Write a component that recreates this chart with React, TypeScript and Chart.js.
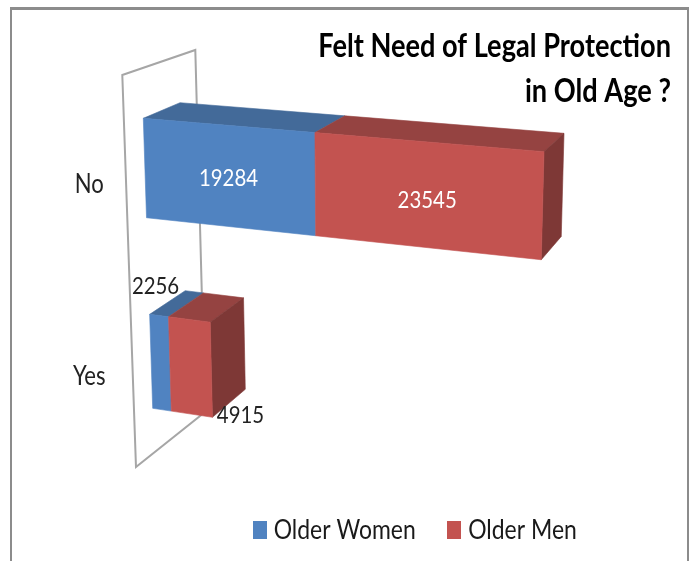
import React, { useEffect, useRef } from "react";
import { Chart, registerables } from "chart.js";

Chart.register(...registerables);

const categories = ["No", "Yes"];
const olderWomen = [19284, 2256];
const olderMen = [23545, 4915];
const seriesNames = ["Older Women", "Older Men"];
const titleLines = ["Felt Need of Legal Protection", "in Old Age ?"];

const FONT = 'Lato, sans-serif';
const FRONT = ["#5083C1", "#C35350"];
const TOP = ["#436A99", "#954341"];
const SIDE = ["#3A5C85", "#7E3836"];
const LABEL_COLORS = [["#FFFFFF", "#FFFFFF"], ["#222222", "#222222"]];
const LABEL_SHIFT = [[[0, 2], [1, 5]], [[-5, -77], [50, 48]]];
const NARROW = 0.85;

type P = [number, number];
const FRONT_QUAD: P[] = [[143.3, 118.3], [544, 151.7], [536, 466], [152.7, 408.3]];
const BACK_QUAD: P[] = [[180, 102.7], [564, 133.3], [556, 434], [187.7, 381]];
const WALL: P[] = [[122.3, 75], [195.3, 50], [205, 412], [136, 467]];

function homography(q: P[]) {
  const [[x0, y0], [x1, y1], [x2, y2], [x3, y3]] = q;
  const dx1 = x1 - x2, dx2 = x3 - x2, sx = x0 - x1 + x2 - x3;
  const dy1 = y1 - y2, dy2 = y3 - y2, sy = y0 - y1 + y2 - y3;
  const den = dx1 * dy2 - dx2 * dy1;
  const g = (sx * dy2 - dx2 * sy) / den;
  const h = (dx1 * sy - sx * dy1) / den;
  const a = x1 - x0 + g * x1, b = x3 - x0 + h * x3;
  const d = y1 - y0 + g * y1, e = y3 - y0 + h * y3;
  return (u: number, v: number): P => {
    const w = g * u + h * v + 1;
    return [(a * u + b * v + x0) / w, (d * u + e * v + y0) / w];
  };
}
const front = homography(FRONT_QUAD);
const back = homography(BACK_QUAD);

function poly(ctx: CanvasRenderingContext2D, pts: P[], color: string) {
  ctx.beginPath();
  pts.forEach((p, i) => (i ? ctx.lineTo(p[0], p[1]) : ctx.moveTo(p[0], p[1])));
  ctx.closePath();
  ctx.fillStyle = color;
  ctx.strokeStyle = color;
  ctx.lineWidth = 0.6;
  ctx.fill();
  ctx.stroke();
}

// The reference's text is tall and narrow: condense everything the chart writes.
function condense(ctx: any) {
  const measure = ctx.measureText.bind(ctx);
  const fill = ctx.fillText.bind(ctx);
  ctx.measureText = (t: string) => {
    const m = measure(t);
    return { width: m.width * NARROW, actualBoundingBoxAscent: m.actualBoundingBoxAscent, actualBoundingBoxDescent: m.actualBoundingBoxDescent };
  };
  ctx.fillText = (t: string, x: number, y: number) => {
    ctx.save();
    ctx.translate(x, y);
    ctx.scale(NARROW, 1);
    fill(t, 0, 0);
    ctx.restore();
  };
}

const box3d = {
  id: "box3d",
  afterLayout(chart: any) {
    const l = chart.legend;
    const dx = 418 - (l.left + l.right) / 2, dy = 6;
    l.left += dx; l.right += dx; l.top += dy; l.bottom += dy;
  },
  beforeDraw(chart: any) {
    const ctx = chart.ctx;
    ctx.save();
    ctx.fillStyle = "#FFFFFF";
    ctx.fillRect(0, 0, chart.width, chart.height);
    ctx.fillStyle = "#8C8C8C";
    ctx.fillRect(10, 7, 679, 3);
    ctx.fillRect(10, 7, 2, chart.height - 7);
    ctx.fillRect(687, 7, 2, chart.height - 7);
    ctx.restore();
  },
  beforeDatasetsDraw(chart: any) {
    const ctx = chart.ctx;
    const { left, right, top, bottom } = chart.chartArea;
    const U = (px: number) => (px - left) / (right - left);
    const V = (py: number) => ((py - top) / (bottom - top) - 0.125) / 0.75;
    ctx.save();
    ctx.beginPath();
    WALL.forEach((p, i) => (i ? ctx.lineTo(p[0], p[1]) : ctx.moveTo(p[0], p[1])));
    ctx.closePath();
    ctx.strokeStyle = "#A6A6A6";
    ctx.lineWidth = 2;
    ctx.stroke();

    const metas = chart.data.datasets.map((_: any, i: number) => chart.getDatasetMeta(i));
    categories.forEach((_, c) => {
      const faces = metas.map((m: any) => {
        const el = m.data[c];
        const u0 = U(el.base), u1 = U(el.x);
        const v0 = V(el.y - el.height / 2), v1 = V(el.y + el.height / 2);
        return { u0, u1, v0, v1 };
      });
      faces.forEach((f: any, s: number) => {
        poly(ctx, [front(f.u0, f.v0), front(f.u1, f.v0), back(f.u1, f.v0), back(f.u0, f.v0)], TOP[s]);
      });
      const last = faces[faces.length - 1];
      poly(ctx, [front(last.u1, last.v0), back(last.u1, last.v0), back(last.u1, last.v1), front(last.u1, last.v1)], SIDE[faces.length - 1]);
      faces.forEach((f: any, s: number) => {
        poly(ctx, [front(f.u0, f.v0), front(f.u1, f.v0), front(f.u1, f.v1), front(f.u0, f.v1)], FRONT[s]);
      });
    });
    ctx.font = `24px ${FONT}`;
    ctx.textAlign = "center";
    ctx.textBaseline = "middle";
    categories.forEach((_, c) => {
      metas.forEach((m: any, s: number) => {
        const el = m.data[c];
        const p = front(U((el.base + el.x) / 2), V(el.y));
        ctx.fillStyle = LABEL_COLORS[c][s];
        ctx.fillText(String(chart.data.datasets[s].data[c]), p[0] + LABEL_SHIFT[c][s][0], p[1] + LABEL_SHIFT[c][s][1]);
      });
    });
    ctx.restore();
    return false;
  },
};

function swatch(color: string) {
  const c = document.createElement("canvas");
  c.width = 14;
  c.height = 18;
  const x = c.getContext("2d")!;
  x.fillStyle = color;
  x.fillRect(0, 0, 14, 18);
  return c;
}

export default function App() {
  const ref = useRef<HTMLCanvasElement>(null);
  useEffect(() => {
    const swatches = FRONT.map(swatch);
    const total = olderWomen[0] + olderMen[0];
    condense(ref.current!.getContext("2d"));
    const chart = new Chart(ref.current!, {
      type: "bar",
      data: {
        labels: categories,
        datasets: [
          { label: seriesNames[0], data: olderWomen, backgroundColor: FRONT[0], barPercentage: 0.5, categoryPercentage: 1 },
          { label: seriesNames[1], data: olderMen, backgroundColor: FRONT[1], barPercentage: 0.5, categoryPercentage: 1 },
        ],
      },
      plugins: [box3d],
      options: {
        indexAxis: "y",
        responsive: false,
        animation: false,
        layout: { autoPadding: false, padding: { right: 18, left: 0, top: 0, bottom: -21.5 } },
        scales: {
          x: { stacked: true, display: false, min: 0, max: total },
          y: {
            stacked: true,
            grid: { display: false },
            border: { display: false },
            ticks: {
              font: { family: FONT, size: 26 },
              color: "#222222",
              padding: 73,
              crossAlign: "center",
            },
          },
        },
        plugins: {
          tooltip: { enabled: false },
          title: {
            display: true,
            text: titleLines,
            align: "end",
            color: "#000000",
            font: { family: FONT, size: 32, weight: "bold", lineHeight: 1.42 },
            padding: { top: 19, bottom: -25.9 },
          },
          legend: {
            position: "bottom",
            fullSize: false,
            labels: {
              font: { family: FONT, size: 27 },
              color: "#1A1A1A",
              usePointStyle: true,
              pointStyleWidth: 1,
              padding: 38,
              generateLabels(c: any) {
                const items = Chart.defaults.plugins.legend.labels.generateLabels(c);
                return items.map((it: any, i: number) => ({ ...it, pointStyle: swatches[i] }));
              },
            },
          },
        },
      },
    } as any);
    return () => chart.destroy();
  }, []);
  return (
    <div style={{ position: "fixed", left: 0, top: 0, width: 689, height: 561, background: "#fff" }}>
      <canvas ref={ref} width={689} height={561} style={{ display: "block" }} />
    </div>
  );
}
